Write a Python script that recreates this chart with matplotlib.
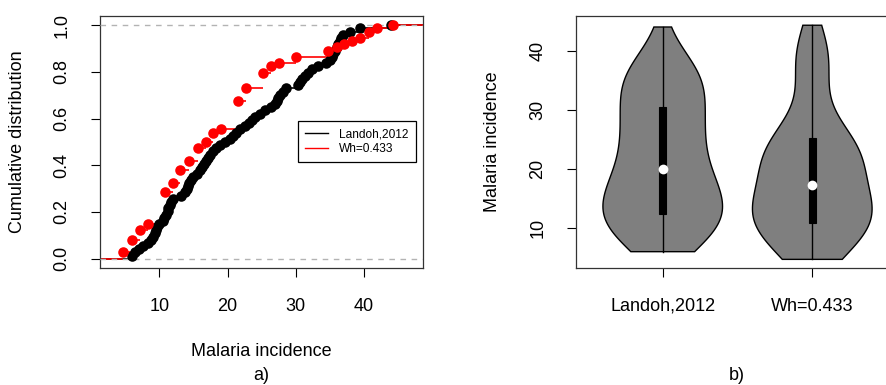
import numpy as np
import matplotlib
matplotlib.use("Agg")
import matplotlib.pyplot as plt
from matplotlib.lines import Line2D
from matplotlib.patches import Rectangle

plt.rcParams['font.family'] = ['Liberation Sans', 'DejaVu Sans']

# Observed malaria incidence (Landoh, 2012), one value per district
landoh = [6.0, 6.5, 7.0, 7.6, 8.3, 8.8, 9.1, 9.3, 9.45, 9.6,
          10.0, 10.5, 10.75, 11.0, 11.2, 11.3, 11.5, 11.7, 12.0, 13.2,
          13.8, 14.0, 14.2, 14.4, 14.7, 15.0, 15.5, 15.9, 16.3, 16.6,
          16.9, 17.2, 17.5, 17.8, 18.3, 18.9, 19.7, 20.3, 20.8, 21.2,
          21.9, 22.5, 23.1, 23.6, 24.1, 24.7, 25.5, 26.4, 26.9, 27.2,
          27.45, 27.75, 28.1, 28.6, 30.3, 30.6, 30.9, 31.3, 31.8, 32.4,
          33.2, 34.4, 35.05, 35.3, 35.5, 35.75, 36.0, 36.2, 36.45, 36.7,
          37.0, 38.0, 39.5, 44.0]

# Estimated incidence for Wh=0.433: distinct values and how often each occurs
wh_values = [4.7, 6.0, 7.2, 8.3, 10.9, 12.05, 13.1, 14.35, 15.6, 16.8,
             17.9, 19.1, 21.5, 22.65, 25.15, 26.4, 27.55, 30.0, 34.7, 36.0,
             37.1, 38.3, 39.5, 40.7, 41.9, 44.3]
wh_counts = [2, 4, 3, 2, 10, 3, 4, 3, 4, 2,
             3, 1, 9, 4, 5, 2, 1, 2, 2, 1,
             1, 1, 1, 2, 1, 1]

series_labels = ["Landoh,2012", "Wh=0.433"]
series_colors = ["black", "red"]

x_landoh = np.array(landoh)
x_wh = np.repeat(np.array(wh_values), wh_counts)
samples = [x_landoh, x_wh]

FS = 13
fig = plt.figure(figsize=(8.87, 3.85), dpi=100)
W, H = 887, 385


def px_axes(x0, y0, x1, y1):
    return fig.add_axes([x0 / W, 1 - y1 / H, (x1 - x0) / W, (y1 - y0) / H])


# ---- a) empirical cumulative distributions ----
ax1 = px_axes(100, 16, 423, 268)
xlo, xhi = 1.3, 48.67
ax1.set_xlim(xlo, xhi)
ax1.set_ylim(-0.04, 1.04)

for data, col in zip(samples, series_colors):
    u, c = np.unique(data, return_counts=True)
    F = np.cumsum(c) / len(data)
    lefts = np.concatenate([[xlo], u])
    rights = np.concatenate([u, [xhi]])
    levels = np.concatenate([[0.0], F])
    ax1.hlines(levels, lefts, rights, colors=col, lw=1.2, zorder=2)
    ax1.plot(u, F, 'o', color=col, ms=7.6, mec='none', zorder=4)

ax1.axhline(0, color='#b3b3b3', lw=1.0, ls=(0, (4, 4)), zorder=3)
ax1.axhline(1, color='#b3b3b3', lw=1.0, ls=(0, (4, 4)), zorder=3)

ax1.set_xticks([10, 20, 30, 40])
ax1.set_yticks([0.0, 0.2, 0.4, 0.6, 0.8, 1.0])
ax1.set_yticklabels(["0.0", "0.2", "0.4", "0.6", "0.8", "1.0"])
ax1.tick_params(axis='both', length=6.5, width=0.8, labelsize=FS, direction='out')
ax1.tick_params(axis='x', pad=15)
ax1.tick_params(axis='y', pad=15, labelrotation=90)
for lab in ax1.get_yticklabels():
    lab.set_va('center')
ax1.set_xlabel("Malaria incidence", fontsize=FS, va='center')
ax1.xaxis.set_label_coords(0.5, (268 - 352) / 252)
ax1.set_ylabel("Cumulative distribution", fontsize=FS, va='center')
ax1.yaxis.set_label_coords((18 - 100) / 323, 0.5)

handles = [Line2D([], [], color=c, lw=1.0) for c in series_colors]
leg = ax1.legend(handles, series_labels, loc='upper left',
                 bbox_to_anchor=(0.614, 0.583), borderaxespad=0,
                 fontsize=8.6, handlelength=1.9, handletextpad=0.9,
                 borderpad=0.6, labelspacing=0.25, fancybox=False,
                 framealpha=1, edgecolor='black')
leg.get_frame().set_linewidth(0.9)

# ---- b) violin plots ----
ax2 = px_axes(576, 16, 899, 268)
ax2.set_xlim(0.42, 2.58)
ax2.set_ylim(3.24, 45.86)


def kde_outline(x, ngrid=100):
    x = np.asarray(x, float)
    h = x.std(ddof=1) * (4.0 / (3.0 * len(x))) ** 0.2
    grid = np.linspace(x.min(), x.max(), ngrid)
    dens = np.exp(-0.5 * ((grid[:, None] - x[None, :]) / h) ** 2).sum(axis=1)
    return grid, dens


for pos, data in enumerate(samples, start=1):
    grid, dens = kde_outline(data)
    hw = 0.4 * dens / dens.max()
    xs = np.concatenate([pos - hw, (pos + hw)[::-1]])
    ys = np.concatenate([grid, grid[::-1]])
    ax2.fill(xs, ys, facecolor='#7f7f7f', edgecolor='black', lw=1.0, zorder=2)
    q1, med, q3 = np.percentile(data, [25, 50, 75])
    ax2.plot([pos, pos], [data.min(), data.max()], color='black', lw=1.0, zorder=3)
    ax2.add_patch(Rectangle((pos - 0.025, q1), 0.05, q3 - q1,
                            facecolor='black', edgecolor='black', lw=0.8, zorder=4))
    ax2.plot(pos, med, 'o', color='white', ms=7, mec='none', zorder=5)

ax2.set_xticks([1, 2])
ax2.set_xticklabels(series_labels)
ax2.set_yticks([10, 20, 30, 40])
ax2.tick_params(axis='both', length=6.5, width=0.8, labelsize=FS, direction='out')
ax2.tick_params(axis='x', pad=15)
ax2.tick_params(axis='y', pad=15, labelrotation=90)
for lab in ax2.get_yticklabels():
    lab.set_va('center')
ax2.set_ylabel("Malaria incidence", fontsize=FS, va='center')
ax2.yaxis.set_label_coords((493 - 576) / 323, 0.5)

for ax in (ax1, ax2):
    for s in ax.spines.values():
        s.set_linewidth(0.9)
        s.set_color('#333333')

fig.text(261 / W, 1 - 376 / H, "a)", fontsize=FS, ha='center', va='center')
fig.text(737 / W, 1 - 376 / H, "b)", fontsize=FS, ha='center', va='center')

fig.savefig("out.png", dpi=100)
